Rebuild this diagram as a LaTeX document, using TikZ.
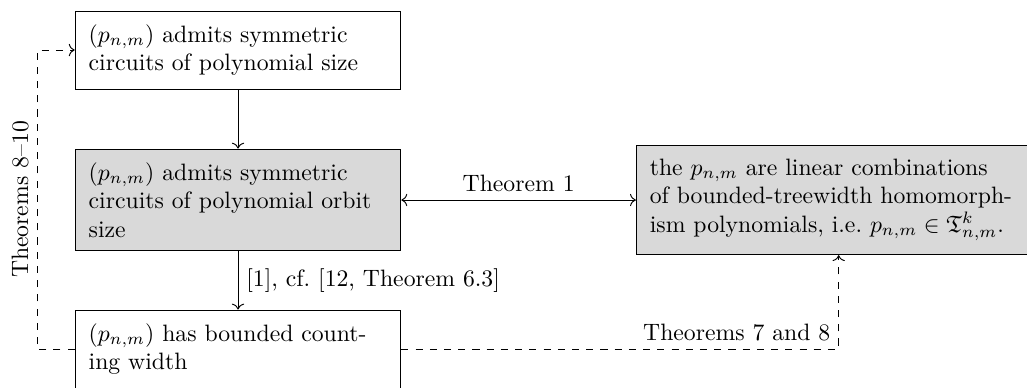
\documentclass[tikz,border=0pt]{standalone}
\usepackage{amsmath}
\usepackage{amssymb}
\usetikzlibrary{arrows.meta, positioning, calc}

\begin{document}
\begin{tikzpicture}[
    stmt/.style={draw, align=left, inner sep=2mm, text width=4.43cm},
    shaded/.style={fill=gray!30}
  ]
  \useasboundingbox (0,0) rectangle (15.23,-5.74);
  % left column
  \node[stmt] (symsize) at (3.53,-0.742) {$(p_{n,m})$ admits symmetric circuits of polynomial size};
  \node[stmt, shaded] (orbsize) at (3.53,-2.966) {$(p_{n,m})$ admits symmetric circuits of polynomial orbit size};
  \node[stmt] (cwidth) at (3.53,-5.176) {$(p_{n,m})$ has bounded count\-ing width};
  % right box
  \node[stmt, shaded, text width=5.6cm, anchor=west] (hompoly) at (9.43,-2.966) {the $p_{n,m}$ are linear combinations\\ of bounded-treewidth homomorph-\\ ism polynomials, i.e.\ $p_{n,m} \in \mathfrak{T}^k_{n,m}$.};
  \coordinate (bend) at (0.549,-5.176);
  % arrows
  \draw[->] (symsize) -- (orbsize);
  \draw[->] (orbsize) -- node[right] {[1], cf.\ [12, Theorem 6.3]} (cwidth);
  \draw[<->] (orbsize) -- node[above] {Theorem 1} (hompoly);
  \draw[->, dashed] (cwidth) -| node[above left] {Theorems 7 and 8} (hompoly);
  \draw[->, dashed] (cwidth) -- (bend) |- node[pos=0.25, sloped, above] {Theorems 8--10} (symsize);
\end{tikzpicture}
\end{document}
